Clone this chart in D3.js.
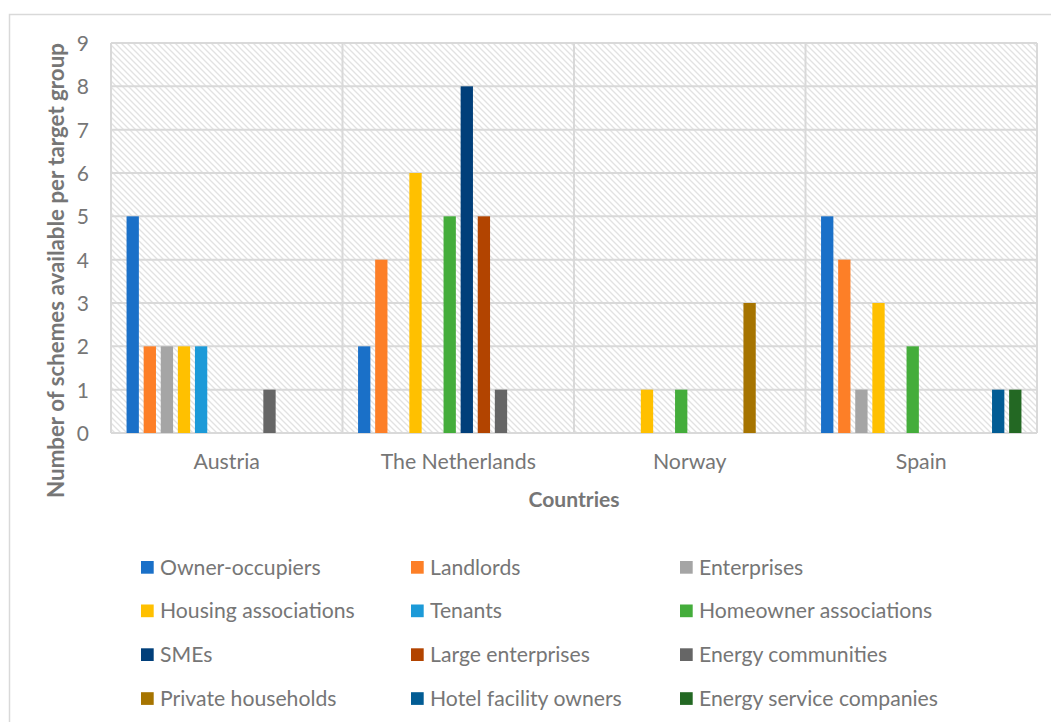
<!DOCTYPE html>
<html>
<head>
<meta charset="utf-8">
<script src="https://cdn.jsdelivr.net/npm/d3@7"></script>
<style>
  html, body { margin: 0; padding: 0; background: #fff; }
  svg { display: block; }
  text { font-family: Lato, "Open Sans", sans-serif; fill: #767676; }
</style>
</head>
<body>
<svg id="chart" width="1051" height="722"></svg>
<script>
// ---- data ----
const countries = ["Austria", "The Netherlands", "Norway", "Spain"];
const seriesNames = ["Owner-occupiers", "Landlords", "Enterprises", "Housing associations", "Tenants",
  "Homeowner associations", "SMEs", "Large enterprises", "Energy communities", "Private households",
  "Hotel facility owners", "Energy service companies"];
const seriesColors = ["#1a70c8", "#fd7f27", "#a5a5a5", "#ffc000", "#1c9ad8", "#44ad3b",
  "#013f7a", "#b24400", "#666666", "#a67400", "#025c94", "#236823"];
const austria     = [5, 2, 2, 2, 2, 0, 0, 0, 1, 0, 0, 0];
const netherlands = [2, 4, 0, 6, 0, 5, 8, 5, 1, 0, 0, 0];
const norway      = [0, 0, 0, 1, 0, 1, 0, 0, 0, 3, 0, 0];
const spain       = [5, 4, 1, 3, 0, 2, 0, 0, 0, 0, 1, 1];
const yTicks = [0, 1, 2, 3, 4, 5, 6, 7, 8, 9];
const yTitle = "Number of schemes available per target group";
const xTitle = "Countries";

const values = [austria, netherlands, norway, spain];

// ---- layout ----
const svg = d3.select("#chart");
const plot = { left: 111, right: 1037, top: 43, bottom: 433 };

// outer frame
svg.append("rect").attr("x", 9.5).attr("y", 14.5).attr("width", 1060).attr("height", 720)
  .attr("fill", "none").attr("stroke", "#d9d9d9").attr("stroke-width", 1.5);

// hatch pattern
const defs = svg.append("defs");
const pat = defs.append("pattern").attr("id", "hatch").attr("patternUnits", "userSpaceOnUse")
  .attr("width", 6).attr("height", 6);
pat.append("rect").attr("width", 6).attr("height", 6).attr("fill", "#fff");
pat.append("path").attr("d", "M-1,-1 L7,7 M-7,-1 L1,7 M5,-1 L13,7")
  .attr("stroke", "#e2e2e2").attr("stroke-width", 1.3);

const x0 = d3.scaleBand().domain(countries).range([plot.left, plot.right]).paddingInner(0).paddingOuter(0);
const x1 = d3.scaleBand().domain(seriesNames).range([0, x0.bandwidth()]).paddingInner(0.28).paddingOuter(0.91);
const y = d3.scaleLinear().domain([0, 9]).range([plot.bottom, plot.top]);

svg.append("rect").attr("x", plot.left).attr("y", plot.top)
  .attr("width", plot.right - plot.left).attr("height", plot.bottom - plot.top)
  .attr("fill", "url(#hatch)");

// horizontal gridlines
svg.append("g").selectAll("line").data(yTicks).join("line")
  .attr("x1", plot.left).attr("x2", plot.right)
  .attr("y1", d => y(d)).attr("y2", d => y(d))
  .attr("stroke", "#d9d9d9").attr("stroke-width", 2);

// vertical category separators
const seps = countries.map(c => x0(c)).concat([plot.right]);
svg.append("g").selectAll("line").data(seps).join("line")
  .attr("x1", d => d).attr("x2", d => d)
  .attr("y1", plot.top).attr("y2", plot.bottom)
  .attr("stroke", "#d9d9d9").attr("stroke-width", 2);

// bars
const groups = svg.append("g").selectAll("g").data(countries).join("g")
  .attr("transform", c => `translate(${x0(c)},0)`);
groups.selectAll("rect")
  .data((c, i) => seriesNames.map((s, j) => ({ s, j, v: values[i][j] })).filter(d => d.v > 0))
  .join("rect")
  .attr("x", d => x1(d.s))
  .attr("width", x1.bandwidth())
  .attr("y", d => y(d.v))
  .attr("height", d => y(0) - y(d.v))
  .attr("fill", d => seriesColors[d.j]);

// y axis tick labels
const yAxis = d3.axisLeft(y).tickValues(yTicks).tickSize(0).tickPadding(0).tickFormat(d3.format("d"));
const yg = svg.append("g").attr("transform", `translate(${plot.left - 22},0)`).call(yAxis);
yg.select(".domain").remove();
yg.selectAll("text").attr("font-size", 21).attr("fill", "#767676")
  .attr("font-family", "Lato, sans-serif").attr("dy", "0.36em");

// x axis labels
const xAxis = d3.axisBottom(x0).tickSize(0).tickPadding(0);
const xg = svg.append("g").attr("transform", `translate(0,${plot.bottom + 36})`).call(xAxis);
xg.select(".domain").remove();
xg.selectAll("text").attr("font-size", 21.3).attr("fill", "#767676")
  .attr("font-family", "Lato, sans-serif").attr("dy", 0);

// axis titles
svg.append("text").attr("transform", `translate(64,${(plot.top + 498) / 2}) rotate(-90)`)
  .attr("text-anchor", "middle").attr("font-size", 22.3).attr("font-weight", "bold")
  .text(yTitle);
svg.append("text").attr("x", (plot.left + plot.right) / 2).attr("y", 507)
  .attr("text-anchor", "middle").attr("font-size", 21.1).attr("font-weight", "bold")
  .text(xTitle);

// legend
const legCols = [141, 411, 680];
const legRows = [561, 604.5, 648.3, 692.2];
const leg = svg.append("g").selectAll("g").data(seriesNames).join("g")
  .attr("transform", (d, i) => `translate(${legCols[i % 3]},${legRows[Math.floor(i / 3)]})`);
leg.append("rect").attr("width", 12.7).attr("height", 12.7).attr("fill", (d, i) => seriesColors[i]);
leg.append("text").attr("x", 19).attr("y", 6.3).attr("dy", "0.36em")
  .attr("font-size", 21.2).text(d => d);
</script>
</body>
</html>
